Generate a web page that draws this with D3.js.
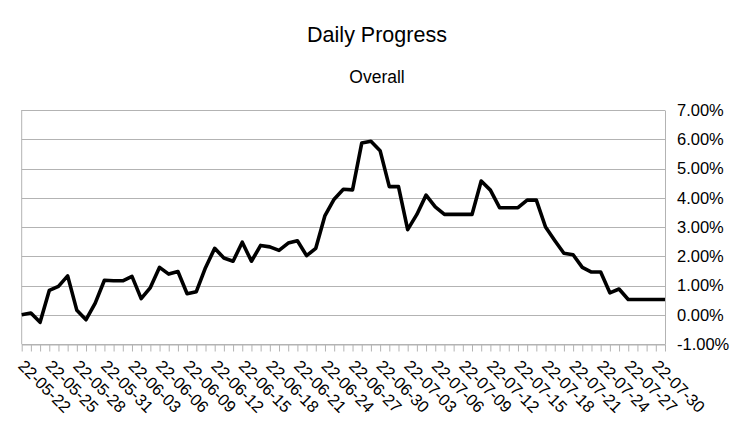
<!DOCTYPE html>
<html lang="en">
	<head>
		<meta charset="utf-8">
		<title>Daily Progress</title>
		<script src="https://d3js.org/d3.v7.min.js"></script>
		<style type="text/css">
			body, html {
				margin: 0;
				padding: 0;
				background: #ffffff;
			}
			text {
				font-family: "Liberation Sans", Arial, sans-serif;
			}
		</style>
	</head>
	<body>
		<div id="chart"></div>
		<script type="text/javascript">

		var dates = [
			"22-05-22","22-05-23","22-05-24","22-05-25","22-05-26","22-05-27","22-05-28","22-05-29","22-05-30","22-05-31",
			"22-06-01","22-06-02","22-06-03","22-06-04","22-06-05","22-06-06","22-06-07","22-06-08","22-06-09","22-06-10",
			"22-06-11","22-06-12","22-06-13","22-06-14","22-06-15","22-06-16","22-06-17","22-06-18","22-06-19","22-06-20",
			"22-06-21","22-06-22","22-06-23","22-06-24","22-06-25","22-06-26","22-06-27","22-06-28","22-06-29","22-06-30",
			"22-07-01","22-07-02","22-07-03","22-07-04","22-07-05","22-07-06","22-07-07","22-07-08","22-07-09","22-07-10",
			"22-07-11","22-07-12","22-07-13","22-07-14","22-07-15","22-07-16","22-07-17","22-07-18","22-07-19","22-07-20",
			"22-07-21","22-07-22","22-07-23","22-07-24","22-07-25","22-07-26","22-07-27","22-07-28","22-07-29","22-07-30",
			"22-07-31"
		]

		// overall daily progress, in percent
		var progress = [
			0.00, 0.06, -0.26, 0.83, 0.97, 1.33, 0.15, -0.17, 0.40, 1.18,
			1.16, 1.16, 1.31, 0.55, 0.93, 1.62, 1.39, 1.48, 0.72, 0.79,
			1.61, 2.27, 1.94, 1.83, 2.48, 1.83, 2.37, 2.32, 2.20, 2.45,
			2.53, 2.02, 2.27, 3.39, 3.95, 4.29, 4.27, 5.87, 5.93, 5.61,
			4.38, 4.38, 2.91, 3.43, 4.09, 3.69, 3.43, 3.43, 3.43, 3.43,
			4.57, 4.26, 3.66, 3.66, 3.66, 3.92, 3.92, 3.00, 2.54, 2.10,
			2.05, 1.62, 1.46, 1.46, 0.75, 0.88, 0.52, 0.52, 0.52, 0.52,
			0.52
		]

		var yTicks = [-1, 0, 1, 2, 3, 4, 5, 6, 7]

		var title = "Daily Progress"
		var subtitle = "Overall"

		var width = 756, height = 426
		var margin = {top: 110, right: 91, bottom: 82, left: 21.7}

		var svg = d3.select("#chart").append("svg")
			.attr("width", width)
			.attr("height", height)

		var xScale = d3.scalePoint()
			.domain(dates)
			.range([margin.left, width - margin.right])

		var yScale = d3.scaleLinear()
			.domain([-1, 7])
			.range([height - margin.bottom, margin.top])

		// gridlines
		svg.append("g")
			.selectAll("line")
			.data(yTicks)
			.enter().append("line")
			.attr("x1", margin.left)
			.attr("x2", width - margin.right)
			.attr("y1", d => Math.round(yScale(d)) + 0.5)
			.attr("y2", d => Math.round(yScale(d)) + 0.5)
			.attr("stroke", "#b3b3b3")
			.attr("stroke-width", 1)

		// left border line
		svg.append("line")
			.attr("x1", margin.left)
			.attr("x2", margin.left)
			.attr("y1", yScale(7))
			.attr("y2", yScale(-1))
			.attr("stroke", "#b3b3b3")

		// x axis with a tick per day
		var xAxis = svg.append("g")
			.attr("transform", "translate(0," + (Math.round(yScale(-1)) + 0.5) + ")")
			.call(d3.axisBottom(xScale).tickSize(7).tickSizeOuter(0).tickFormat(""))
		xAxis.selectAll("line, path").attr("stroke", "#b3b3b3")

		// rotated date labels, every third day
		svg.append("g")
			.selectAll("text")
			.data(dates.filter((d, i) => i % 3 === 0))
			.enter().append("text")
			.attr("transform", d => "translate(" + (xScale(d) - 4.5) + "," + 367 + ") rotate(45)")
			.attr("text-anchor", "start")
			.attr("font-size", "16.5px")
			.attr("fill", "#000")
			.text(d => d)

		// y axis on the right
		var pct = d3.format(".2f")
		var yAxis = svg.append("g")
			.attr("transform", "translate(" + (width - margin.right) + ",0)")
			.call(d3.axisRight(yScale).tickValues(yTicks).tickSize(0).tickPadding(12)
				.tickFormat(d => (d < 0 ? "-" : "") + pct(Math.abs(d)) + "%"))
		yAxis.select("path").attr("stroke", "#b3b3b3")
		yAxis.selectAll("text")
			.attr("font-size", "16.5px")
			.attr("font-family", "Liberation Sans, Arial, sans-serif")
			.attr("fill", "#000")

		// progress line
		var line = d3.line()
			.x((d, i) => xScale(dates[i]))
			.y(d => yScale(d))

		svg.append("path")
			.attr("d", line(progress))
			.attr("fill", "none")
			.attr("stroke", "#000")
			.attr("stroke-width", 3.6)
			.attr("stroke-linejoin", "round")

		// titles
		svg.append("text")
			.text(title)
			.attr("x", 377)
			.attr("y", 41.5)
			.attr("text-anchor", "middle")
			.attr("font-size", "21.5px")
			.attr("fill", "#000")

		svg.append("text")
			.text(subtitle)
			.attr("x", 377)
			.attr("y", 82.5)
			.attr("text-anchor", "middle")
			.attr("font-size", "17.5px")
			.attr("fill", "#000")

		</script>
	</body>
</html>
